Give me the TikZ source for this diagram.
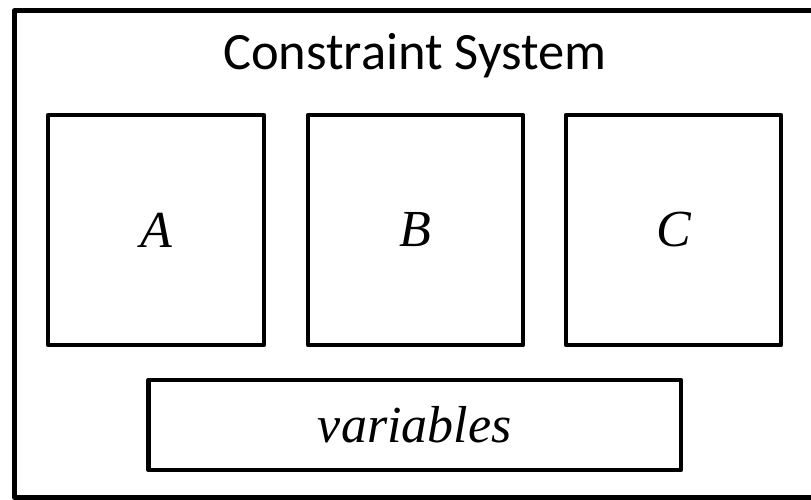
\documentclass[tikz,border=0pt]{standalone}
\usepackage{fontspec}
\setmainfont{Liberation Serif}
\newfontfamily\titlefont{Carlito}
\begin{document}
\begin{tikzpicture}[x=1pt,y=-1pt,
  box/.style={draw=black,line width=4.5pt,line join=round,inner sep=0pt,outer sep=0pt,
    font=\fontsize{52pt}{52pt}\selectfont\itshape},
]
\useasboundingbox (0,0) rectangle (811,499);
\clip (0,0) rectangle (811,499);
\node[box,minimum width=800pt,minimum height=487pt] (sys) at (414.5,254) {};
\node[anchor=base,font=\titlefont\fontsize{52.5pt}{52.5pt}\selectfont] (title) at (415,69) {Constraint System};
\node[box,minimum width=216pt,minimum height=230pt] (A) at (156,230) {A};
\node[box,minimum width=215pt,minimum height=230pt] (B) at (415.5,230) {B};
\node[box,minimum width=215pt,minimum height=230pt] (C) at (673.5,230) {C};
\node[box,minimum width=532.5pt,minimum height=90pt] (vars) at (414.75,425) {variables};
\end{tikzpicture}
\end{document}
